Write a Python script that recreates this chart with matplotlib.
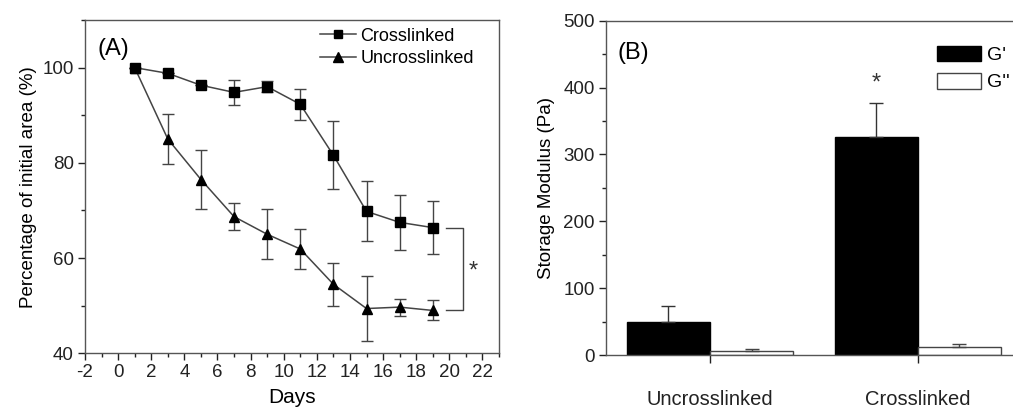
import matplotlib
matplotlib.use("Agg")
import matplotlib.pyplot as plt
from matplotlib.ticker import MultipleLocator
from matplotlib.patches import Patch
from matplotlib.lines import Line2D
import numpy as np

plt.rcParams['font.family'] = ['Liberation Sans', 'DejaVu Sans']
plt.rcParams['axes.unicode_minus'] = False

# Panel A data
days = [1, 3, 5, 7, 9, 11, 13, 15, 17, 19]
crosslinked = [100, 98.8, 96.3, 94.8, 96.0, 92.3, 81.6, 69.8, 67.5, 66.4]
crosslinked_err = [0, 0, 0, 2.6, 1.2, 3.2, 7.1, 6.3, 5.7, 5.6]
uncrosslinked = [100, 85.0, 76.5, 68.7, 65.0, 61.9, 54.5, 49.4, 49.7, 49.0]
uncrosslinked_err = [0, 5.2, 6.1, 2.8, 5.3, 4.3, 4.5, 6.9, 1.8, 2.1]

# Panel B data
groups = ["Uncrosslinked", "Crosslinked"]
g_prime = [49, 325.6]
g_prime_err = [24, 52]
g_dprime = [6, 12.5]
g_dprime_err = [3, 3.5]

fig = plt.figure(figsize=(10.13, 4.12), dpi=100)

line_c = '#444444'
spine_c = '#555555'

# ---------------- Panel A ----------------
axA = fig.add_axes([85/1013, 1-353.3/412, (499-85)/1013, (353.3-20)/412])
axA.errorbar(days, crosslinked, yerr=crosslinked_err, color=line_c, lw=1.1,
             marker='s', ms=6.5, mfc='black', mec='black', ecolor=line_c,
             elinewidth=1, capsize=4.5, capthick=1)
axA.errorbar(days, uncrosslinked, yerr=uncrosslinked_err, color=line_c, lw=1.1,
             marker='^', ms=7.5, mfc='black', mec='black', ecolor=line_c,
             elinewidth=1, capsize=4.5, capthick=1)
axA.set_xlim(-2, 23)
axA.set_ylim(40, 110)
axA.xaxis.set_major_locator(MultipleLocator(2))
axA.xaxis.set_minor_locator(MultipleLocator(1))
axA.yaxis.set_minor_locator(MultipleLocator(10))
axA.set_yticks([40, 60, 80, 100])
axA.tick_params(which='major', direction='out', length=5, width=1, labelsize=13.5, colors='#222222', pad=3)
axA.tick_params(which='minor', direction='out', length=3, width=1, colors='#222222')
for s in axA.spines.values():
    s.set_color(spine_c)
    s.set_linewidth(1)
axA.set_xlabel('Days', fontsize=15, labelpad=5)
axA.set_ylabel('Percentage of initial area (%)', fontsize=13.5, labelpad=4)
axA.text(0.03, 0.945, '(A)', transform=axA.transAxes, fontsize=17, va='top', ha='left')
# significance bracket
bx0, bx1 = 19.8, 20.8
axA.plot([bx0, bx1, bx1, bx0], [crosslinked[-1], crosslinked[-1], uncrosslinked[-1], uncrosslinked[-1]],
         color=line_c, lw=1)
axA.text(21.45, (crosslinked[-1] + uncrosslinked[-1]) / 2 - 0.5, '*', fontsize=17, ha='center', va='center', color='#333333')
legA_handles = [
    Line2D([], [], color=line_c, lw=1.1, marker='s', ms=6, mfc='black', mec='black'),
    Line2D([], [], color=line_c, lw=1.1, marker='^', ms=7, mfc='black', mec='black'),
]
axA.legend(legA_handles, ['Crosslinked', 'Uncrosslinked'], loc='upper left', bbox_to_anchor=(0.537, 1.015),
           frameon=False, fontsize=13, handlelength=2.0, handletextpad=0.25, borderpad=0.2, labelspacing=0.3)

# ---------------- Panel B ----------------
axB = fig.add_axes([605.7/1013, 1-355/412, (1013-605.7)/1013, (355-20.7)/412])
x = np.arange(len(groups))
w = 0.4
axB.bar(x - w/2, g_prime, w, color='black', edgecolor='black', lw=1,
        yerr=[[0]*len(g_prime), g_prime_err], ecolor='#333333', capsize=5,
        error_kw=dict(elinewidth=1, capthick=1))
axB.bar(x + w/2, g_dprime, w, color='white', edgecolor='#444444', lw=1,
        yerr=[[0]*len(g_dprime), g_dprime_err], ecolor='#444444', capsize=5,
        error_kw=dict(elinewidth=1, capthick=1))
axB.set_xlim(-0.502, 1.459)
axB.set_ylim(0, 500)
axB.set_xticks(x)
axB.set_xticklabels(groups)
axB.yaxis.set_major_locator(MultipleLocator(100))
axB.yaxis.set_minor_locator(MultipleLocator(50))
axB.tick_params(axis='y', which='major', direction='out', length=5, width=1, labelsize=13.5, colors='#222222', pad=3)
axB.tick_params(axis='y', which='minor', direction='out', length=3, width=1, colors='#222222')
axB.tick_params(axis='x', which='major', direction='out', length=6, width=1, labelsize=14.5, colors='#222222', pad=19)
for s in axB.spines.values():
    s.set_color(spine_c)
    s.set_linewidth(1)
axB.spines['right'].set_visible(False)
axB.set_ylabel('Storage Modulus (Pa)', fontsize=13.5, labelpad=6)
axB.text(0.03, 0.935, '(B)', transform=axB.transAxes, fontsize=17, va='top', ha='left')
axB.text(1 - w/2, 406, '*', fontsize=17, ha='center', va='center', color='#333333')
handles = [Patch(facecolor='black', edgecolor='black'), Patch(facecolor='white', edgecolor='#444444')]
axB.legend(handles, ["G'", "G''"], loc='upper left', bbox_to_anchor=(0.8127, 0.925), frameon=False,
           fontsize=14, handlelength=2.3, handleheight=0.85, handletextpad=0.3, borderpad=0.0,
           borderaxespad=0.0, labelspacing=0.45)

fig.savefig('out.png', dpi=100)
